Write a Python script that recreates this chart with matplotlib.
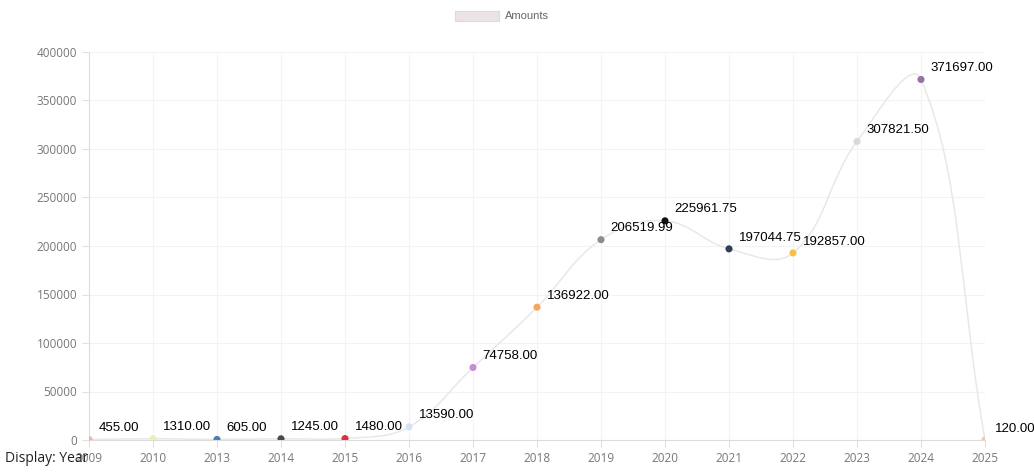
import matplotlib.pyplot as plt
from matplotlib.path import Path
from matplotlib.patches import PathPatch, Rectangle
import numpy as np

years = ["2009", "2010", "2013", "2014", "2015", "2016", "2017", "2018",
         "2019", "2020", "2021", "2022", "2023", "2024", "2025"]
amounts = [455.00, 1310.00, 605.00, 1245.00, 1480.00, 13590.00, 74758.00,
           136922.00, 206519.99, 225961.75, 197044.75, 192857.00, 307821.50,
           371697.00, 120.00]
point_colors = ["#f3b39b", "#eeeeb4", "#4a7fb8", "#4a4a4a", "#d9323c",
                "#cfe4f6", "#c98ad6", "#f5a75a", "#8c8c8c", "#111111",
                "#2c4058", "#f6c244", "#d9d9d9", "#9a6fa6", "#f6c9a6"]

W, H = 1034, 472
fig = plt.figure(figsize=(W / 100, H / 100), dpi=100)
left, right, bottom, top = 89, 985, 440, 52
ax = fig.add_axes([left / W, 1 - bottom / H, (right - left) / W, (bottom - top) / H])

x = np.arange(len(years))
ymax = 400000
ax.set_xlim(0, len(years) - 1)
ax.set_ylim(0, ymax)

# smooth line like a tension-0.4 spline, computed in pixel space
sx = (right - left) / (len(years) - 1)
sy = (bottom - top) / ymax
px = x * sx
py = np.array(amounts) * sy
tension = 0.4
cps = []
for i in range(len(px)):
    p0 = (px[max(i - 1, 0)], py[max(i - 1, 0)])
    p1 = (px[i], py[i])
    p2 = (px[min(i + 1, len(px) - 1)], py[min(i + 1, len(px) - 1)])
    d01 = np.hypot(p1[0] - p0[0], p1[1] - p0[1])
    d12 = np.hypot(p2[0] - p1[0], p2[1] - p1[1])
    tot = d01 + d12 if d01 + d12 else 1
    fa = tension * d01 / tot
    fb = tension * d12 / tot
    c_prev = (p1[0] - fa * (p2[0] - p0[0]), p1[1] - fa * (p2[1] - p0[1]))
    c_next = (p1[0] + fb * (p2[0] - p0[0]), p1[1] + fb * (p2[1] - p0[1]))
    c_prev = (c_prev[0], min(max(c_prev[1], 0), bottom - top))
    c_next = (c_next[0], min(max(c_next[1], 0), bottom - top))
    cps.append((c_prev, c_next))

verts = [(px[0], py[0])]
codes = [Path.MOVETO]
for i in range(len(px) - 1):
    verts += [cps[i][1], cps[i + 1][0], (px[i + 1], py[i + 1])]
    codes += [Path.CURVE4] * 3
verts = [(vx / sx, vy / sy) for vx, vy in verts]
ax.add_patch(PathPatch(Path(verts, codes), fill=False, edgecolor="#e8e8e8",
                       lw=1.1, zorder=2))

ax.scatter(x, amounts, s=26, c=point_colors, zorder=3, edgecolors="none")

for xi, v in zip(x, amounts):
    ax.annotate(f"{v:.2f}", (xi, v), xytext=(7, 6), textcoords="offset points",
                fontsize=9.5, family="Liberation Sans", color="#000000", zorder=4)

ax.set_xticks(x)
ax.set_xticklabels(years)
ax.set_yticks(np.arange(0, ymax + 1, 50000))
ax.tick_params(colors="#e0e0e0", labelcolor="#777777", labelsize=8.5, length=5)
for lab in ax.get_xticklabels() + ax.get_yticklabels():
    lab.set_family("Open Sans")
ax.grid(True, color="#f3f3f3", lw=0.8)
ax.set_axisbelow(True)
for s in ["top", "right"]:
    ax.spines[s].set_visible(False)
for s in ["left", "bottom"]:
    ax.spines[s].set_color("#dddddd")

# legend
fig.patches.append(Rectangle((455 / W, 1 - 21 / H), 44 / W, 10 / H,
                             transform=fig.transFigure, facecolor="#ebe3e5",
                             edgecolor="#e0d8da", lw=0.8))
fig.text(505 / W, 1 - 16 / H, "Amounts", fontsize=8, color="#666666",
         family="Liberation Sans", va="center")

fig.text(5 / W, 1 - 458 / H, "Display: Year", fontsize=10, color="#222222",
         family="Open Sans", va="center")

fig.savefig("out.png", dpi=100)
